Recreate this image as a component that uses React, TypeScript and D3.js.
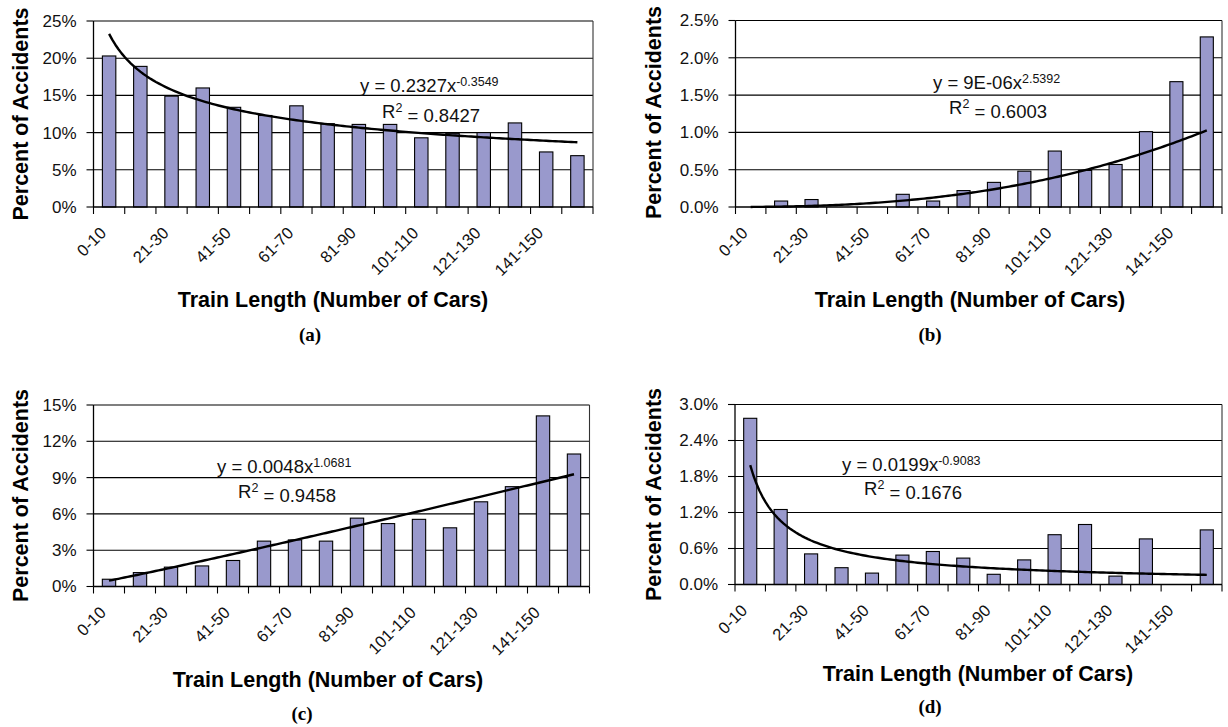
import React from 'react';
import * as d3 from 'd3';

// ---------- data ----------
const categories = [
  '0-10', '11-20', '21-30', '31-40', '41-50', '51-60', '61-70', '71-80',
  '81-90', '91-100', '101-110', '111-120', '121-130', '131-140', '141-150', '151-160',
];

// percent of accidents per train-length bin
const valuesA = [20.3, 18.9, 14.9, 16.0, 13.4, 12.3, 13.6, 11.2, 11.1, 11.1, 9.3, 9.9, 10.0, 11.3, 7.4, 6.9];
const valuesB = [0, 0.08, 0.1, 0, 0, 0.17, 0.08, 0.22, 0.33, 0.48, 0.75, 0.49, 0.57, 1.01, 1.68, 2.28];
const valuesC = [0.6, 1.15, 1.6, 1.7, 2.15, 3.75, 3.85, 3.75, 5.65, 5.2, 5.55, 4.85, 7.0, 8.25, 14.1, 10.95];
const valuesD = [2.77, 1.25, 0.51, 0.28, 0.19, 0.49, 0.55, 0.44, 0.17, 0.41, 0.83, 1.0, 0.14, 0.76, 0, 0.91];

// y-axis tick values (percent)
const ticksA = [0, 5, 10, 15, 20, 25];
const ticksB = [0, 0.5, 1.0, 1.5, 2.0, 2.5];
const ticksC = [0, 3, 6, 9, 12, 15];
const ticksD = [0, 0.6, 1.2, 1.8, 2.4, 3.0];

// power trendlines y = coef * x^exp (fraction), as printed on the chart
const trendCoef = { a: 0.2327, b: 9e-6, c: 0.0048, d: 0.0199 };
const trendExp = { a: -0.3549, b: 2.5392, c: 1.0681, d: -0.9083 };
const eqMain = { a: 'y = 0.2327x', b: 'y = 9E-06x', c: 'y = 0.0048x', d: 'y = 0.0199x' };
const eqSup = { a: '-0.3549', b: '2.5392', c: '1.0681', d: '-0.9083' };
const r2Text = { a: ' = 0.8427', b: ' = 0.6003', c: ' = 0.9458', d: ' = 0.1676' };

const xTitle = 'Train Length (Number of Cars)';
const yTitle = 'Percent of Accidents';

// ---------- layout ----------
const layouts = {
  a: { left: 93.5, right: 593, top: 21, bottom: 207, yTitleX: 20, yTitleY: 114, xTitleX: 333, xTitleY: 299, letterX: 310, letterY: 334, eqX: 360, eqY: 86, r2X: 382, r2Y: 112 },
  b: { left: 735.5, right: 1222, top: 20.5, bottom: 207, yTitleX: 653, yTitleY: 112.5, xTitleX: 970, xTitleY: 299, letterX: 930, letterY: 334, eqX: 933, eqY: 83, r2X: 949, r2Y: 108 },
  c: { left: 93.5, right: 589.5, top: 405, bottom: 586.5, yTitleX: 20, yTitleY: 495.5, xTitleX: 328, xTitleY: 679, letterX: 302, letterY: 713, eqX: 217, eqY: 467, r2X: 238, r2Y: 492 },
  d: { left: 735, right: 1222, top: 404.5, bottom: 584.5, yTitleX: 653, yTitleY: 494.5, xTitleX: 978, xTitleY: 673, letterX: 930, letterY: 706, eqX: 842, eqY: 465, r2X: 864, r2Y: 489 },
};

const FONT = "'Liberation Sans', Arial, Helvetica, sans-serif";
const BAR_FILL = '#9999CC';

type PanelProps = {
  id: 'a' | 'b' | 'c' | 'd';
  values: number[];
  ticks: number[];
  fmt: (v: number) => string;
};

function Panel({ id, values, ticks, fmt }: PanelProps) {
  const L = layouts[id];
  const n = categories.length;
  const x = d3.scaleBand<string>().domain(categories).range([L.left, L.right]).paddingInner(0.57).paddingOuter(0.285);
  const yMax = ticks[ticks.length - 1];
  const y = d3.scaleLinear().domain([0, yMax]).range([L.bottom, L.top]);
  const step = x.step();
  const bw = x.bandwidth();
  const center = (c: string) => (x(c) as number) + bw / 2;

  // trendline: index 1..n mapped to band centers
  const xi = d3.scaleLinear().domain([1, n]).range([center(categories[0]), center(categories[n - 1])]);
  const samples = d3.range(1, n + 0.0001, 0.1);
  const line = d3.line<number>()
    .x((t) => xi(t))
    .y((t) => y(trendCoef[id] * Math.pow(t, trendExp[id]) * 100));
  const trendPath = line(samples) || '';

  const boundaries = d3.range(0, n + 1).map((k) => L.left + k * step);

  return (
    <g>
      {/* gridlines */}
      {ticks.filter((t) => t > 0).map((t) => (
        <line key={'g' + t} x1={L.left} x2={L.right} y1={y(t)} y2={y(t)} stroke="#000" strokeWidth={1.1} />
      ))}
      {/* plot border right */}
      <line x1={L.right} x2={L.right} y1={L.top} y2={L.bottom} stroke="#333" strokeWidth={1.1} />
      {/* bars */}
      {values.map((v, i) =>
        v > 0 ? (
          <rect key={'b' + i} x={x(categories[i])} y={y(v)} width={bw} height={L.bottom - y(v)}
            fill={BAR_FILL} stroke="#000" strokeWidth={1.1} />
        ) : null
      )}
      {/* trendline */}
      <path d={trendPath} fill="none" stroke="#000" strokeWidth={2.4} strokeLinejoin="round" />
      {/* axes */}
      <line x1={L.left} x2={L.left} y1={L.top} y2={L.bottom} stroke="#000" strokeWidth={1.3} />
      <line x1={L.left} x2={L.right} y1={L.bottom} y2={L.bottom} stroke="#000" strokeWidth={1.3} />
      {ticks.map((t) => (
        <g key={'yt' + t}>
          <line x1={L.left - 7} x2={L.left} y1={y(t)} y2={y(t)} stroke="#000" strokeWidth={1.1} />
          <text x={L.left - 17} y={y(t)} dy="0.35em" textAnchor="end" fontFamily={FONT} fontSize={17} fill="#111">
            {fmt(t)}
          </text>
        </g>
      ))}
      {boundaries.map((bx, k) => (
        <line key={'xt' + k} x1={bx} x2={bx} y1={L.bottom} y2={L.bottom + 7} stroke="#000" strokeWidth={1.1} />
      ))}
      {categories.map((c, i) =>
        i % 2 === 0 ? (
          <text key={'xl' + i} transform={`translate(${center(c) - 6},${L.bottom + 23}) rotate(-45)`}
            dy="0.35em" textAnchor="end" fontFamily={FONT} fontSize={16.5} fill="#111">
            {c}
          </text>
        ) : null
      )}
      {/* titles */}
      <text transform={`translate(${L.yTitleX},${L.yTitleY}) rotate(-90)`} dy="0.35em" textAnchor="middle"
        fontFamily={FONT} fontWeight="bold" fontSize={21.5} fill="#000">
        {yTitle}
      </text>
      <text x={L.xTitleX} y={L.xTitleY} dy="0.35em" textAnchor="middle" fontFamily={FONT} fontWeight="bold" fontSize={21.5} fill="#000">
        {xTitle}
      </text>
      <text x={L.letterX} y={L.letterY} dy="0.35em" textAnchor="middle" fontFamily="'Liberation Serif', 'Times New Roman', serif"
        fontWeight="bold" fontSize={19} fill="#000">
        {`(${id})`}
      </text>
      {/* equation */}
      <text x={L.eqX} y={L.eqY} dy="0.35em" fontFamily={FONT} fontSize={18.5} fill="#111">
        {eqMain[id]}
        <tspan dy="-0.55em" fontSize={12.5}>{eqSup[id]}</tspan>
      </text>
      <text x={L.r2X} y={L.r2Y} dy="0.35em" fontFamily={FONT} fontSize={18.5} fill="#111">
        R<tspan dy="-0.55em" fontSize={12.5}>2</tspan>
        <tspan dy="0.55em">{r2Text[id]}</tspan>
      </text>
    </g>
  );
}

const fmtInt = (v: number) => `${Math.round(v)}%`;
const fmt1 = (v: number) => `${v.toFixed(1)}%`;

export default function App() {
  return (
    <svg width={1228} height={727} viewBox="0 0 1228 727"
      style={{ position: 'absolute', left: 0, top: 0, background: '#fff' }}>
      <rect x={0} y={0} width={1228} height={727} fill="#fff" />
      <Panel id="a" values={valuesA} ticks={ticksA} fmt={fmtInt} />
      <Panel id="b" values={valuesB} ticks={ticksB} fmt={fmt1} />
      <Panel id="c" values={valuesC} ticks={ticksC} fmt={fmtInt} />
      <Panel id="d" values={valuesD} ticks={ticksD} fmt={fmt1} />
    </svg>
  );
}
